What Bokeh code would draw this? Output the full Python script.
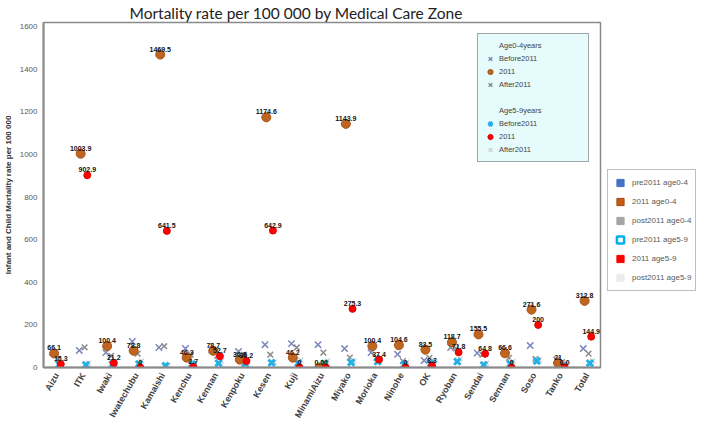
from bokeh.plotting import figure
from bokeh.layouts import row
from bokeh.models import ColumnDataSource, FactorRange, Legend, LegendItem, FixedTicker
from bokeh.transform import dodge
from bokeh.core.properties import value
from bokeh.embed import file_html
from bokeh.resources import INLINE

zones = ["Aizu", "ITK", "Iwaki", "Iwatechubu", "Kamaishi", "Kenchu", "Kennan", "Kenpoku",
         "Kesen", "Kuji", "MinamiAizu", "Miyako", "Morioka", "Ninohe", "OK", "Ryoban",
         "Sendai", "Sennan", "Soso", "Tanko", "Total"]

pre_0_4 = [72, 80, 70, 122, 94, 89, 82, 75, 107, 112, 107, 89, 70, 62, 33, 94, 68, 80, 103, 35, 89]
y2011_0_4 = [66.1, 1003.9, 100.4, 78.8, 1469.5, 46.3, 78.7, 36.8, 1174.6, 46.2, 0.0, 1143.9,
             100.4, 104.6, 83.5, 118.7, 155.5, 66.6, 271.6, 21.0, 312.8]
post_0_4 = [40, 95, 55, 65, 100, 60, 55, 60, 60, 94, 70, 47, 45, 30, 45, 90, 60, 45, 40, 25, 65]
pre_5_9 = [14, 12, 15, 17, 8, 16, 20, 18, 22, 20, 19, 24, 28, 14, 18, 28, 12, 17, 30, 10, 20]
y2011_5_9 = [15.3, 902.9, 21.2, 0.0, 641.5, 2.7, 52.7, 30.2, 642.9, 0.0, 0.0, 275.3, 37.4, 0.0,
             8.3, 71.8, 64.8, 0.0, 200.0, 0.0, 144.9]
post_5_9 = [25, 20, 20, 30, 10, 18, 30, 28, 25, 35, 30, 30, 40, 25, 35, 40, 20, 28, 35, 15, 30]

lab_0_4 = ["66.1", "1003.9", "100.4", "78.8", "1469.5", "46.3", "78.7", "36.8", "1174.6", "46.2",
           "0.0", "1143.9", "100.4", "104.6", "83.5", "118.7", "155.5", "66.6", "271.6", "21", "312.8"]
lab_5_9 = ["15.3", "902.9", "21.2", "0", "641.5", "2.7", "52.7", "30.2", "642.9", "0", "0",
           "275.3", "37.4", "0", "8.3", "71.8", "64.8", "0", "200", "0.0", "144.9"]

y_ticks = [0, 200, 400, 600, 800, 1000, 1200, 1400, 1600]

title_text = "Mortality rate per 100 000 by Medical Care Zone"
y_label = "Infant and Child Mortality rate per 100 000"

src = ColumnDataSource(dict(zone=zones, pre04=pre_0_4, y04=y2011_0_4, post04=post_0_4,
                            pre59=pre_5_9, y59=y2011_5_9, post59=post_5_9,
                            lab04=lab_0_4, lab59=lab_5_9))

H = 432
p = figure(width=602, height=H, x_range=FactorRange(factors=zones, range_padding=0),
           y_range=(0, 1620), output_backend="svg", toolbar_location=None,
           title=title_text,
           min_border_left=42, min_border_right=2, min_border_top=0, min_border_bottom=65)

p.title.text_font = "Lato"
p.title.text_font_size = "15.5px"
p.title.text_font_style = "normal"
p.title.text_color = "#222222"
p.title.align = "left"
p.title.offset = 86
p.title.standoff = 2

p.xgrid.visible = False
p.ygrid.visible = False
p.outline_line_color = "#8a8a8a"
p.outline_line_width = 1.5

p.yaxis.ticker = FixedTicker(ticks=y_ticks)
p.yaxis.axis_label = y_label
p.yaxis.axis_label_text_font = "Liberation Sans"
p.yaxis.axis_label_text_font_size = "8px"
p.yaxis.axis_label_text_font_style = "bold"
p.yaxis.axis_label_text_color = "#333333"
p.yaxis.axis_label_standoff = 4
p.yaxis.major_label_text_font = "Liberation Sans"
p.yaxis.major_label_text_font_size = "8px"
p.yaxis.major_label_text_color = "#595959"
p.yaxis.major_label_standoff = 6
p.yaxis.major_tick_line_color = None
p.yaxis.major_tick_out = 0
p.yaxis.major_tick_in = 0
p.yaxis.minor_tick_line_color = None
p.yaxis.minor_tick_out = 0
p.yaxis.axis_line_color = "#8a8a8a"
p.yaxis.axis_line_width = 2

p.xaxis.major_label_orientation = 1.05
p.xaxis.major_label_text_font = "Liberation Sans"
p.xaxis.major_label_text_font_size = "9px"
p.xaxis.major_label_text_font_style = "bold"
p.xaxis.major_label_text_color = "#404040"
p.xaxis.major_label_standoff = 6
p.xaxis.major_tick_line_color = None
p.xaxis.major_tick_out = 0
p.xaxis.axis_line_color = "#8a8a8a"
p.xaxis.axis_line_width = 2

r_pre04 = p.scatter(x=dodge("zone", -0.15, range=p.x_range), y="pre04", source=src, marker="x",
                    size=9, line_color="#7c88bd", line_width=1.5)
r_post04 = p.scatter(x=dodge("zone", 0.05, range=p.x_range), y="post04", source=src, marker="x",
                     size=8, line_color="#8c8c8c", line_width=1.5)
r_post59 = p.scatter(x=dodge("zone", 0.2, range=p.x_range), y="post59", source=src, marker="x",
                     size=7, line_color="#d2d2d2", line_width=1.5)
r_pre59 = p.scatter(x=dodge("zone", 0.1, range=p.x_range), y="pre59", source=src, marker="x",
                    size=9, line_color="#22b0e6", line_width=3)
r_y04 = p.scatter(x=dodge("zone", -0.1, range=p.x_range), y="y04", source=src, marker="circle",
                  size=9, fill_color="#c0651f", line_color="#a65518")
r_y59 = p.scatter(x=dodge("zone", 0.15, range=p.x_range), y="y59", source=src, marker="circle",
                  size=7, fill_color="#ff0000", line_color="#e00000")

p.text(x=dodge("zone", -0.1, range=p.x_range), y="y04", text="lab04", source=src,
       text_font=value("Liberation Sans"), text_font_size="7px", text_font_style="bold",
       text_align="center", text_baseline="bottom", y_offset=-3, text_color="#111111")
p.text(x=dodge("zone", 0.15, range=p.x_range), y="y59", text="lab59", source=src,
       text_font=value("Liberation Sans"), text_font_size="7px", text_font_style="bold",
       text_align="center", text_baseline="bottom", y_offset=-3, text_color="#111111")

# hidden renderer used only for the legend headers
r_head = p.scatter(x="zone", y="y04", source=src, marker="circle", size=0, alpha=0)

inset = Legend(items=[
    LegendItem(label="Age0-4years", renderers=[r_head]),
    LegendItem(label="Before2011", renderers=[r_pre04]),
    LegendItem(label="2011", renderers=[r_y04]),
    LegendItem(label="After2011", renderers=[r_post04]),
    LegendItem(label=" ", renderers=[r_head]),
    LegendItem(label="Age5-9years", renderers=[r_head]),
    LegendItem(label="Before2011", renderers=[r_pre59]),
    LegendItem(label="2011", renderers=[r_y59]),
    LegendItem(label="After2011", renderers=[r_post59]),
], location=(434, 205), orientation="vertical")
inset.background_fill_color = "#e6fbfb"
inset.background_fill_alpha = 1
inset.border_line_color = "#555555"
inset.border_line_width = 1.5
inset.padding = 5
inset.spacing = 0
inset.margin = 0
inset.glyph_width = 14
inset.glyph_height = 13
inset.label_height = 13
inset.label_width = 84
inset.label_standoff = 2
inset.label_text_font = "Liberation Sans"
inset.label_text_font_size = "7.5px"
inset.label_text_color = "#444444"
p.add_layout(inset, "center")

# side figure holding the outer legend
p2 = figure(width=98, height=H, x_range=p.x_range, y_range=p.y_range, output_backend="svg",
            toolbar_location=None, x_axis_location=None, y_axis_location=None,
            min_border_left=0, min_border_right=0, min_border_top=0, min_border_bottom=0)
p2.xgrid.visible = False
p2.ygrid.visible = False
p2.outline_line_color = None

sq_colors = [("pre04", "#4472c4", "#4472c4", 1), ("y04", "#c55a11", "#9c4a14", 1),
             ("post04", "#a5a5a5", "#a5a5a5", 1), ("pre59", "white", "#00b0f0", 2.5),
             ("y59", "#ff0000", "#ff0000", 1), ("post59", "#ececec", "#ececec", 1)]
sq_r = []
for col, fc, lc, lw in sq_colors:
    sq_r.append(p2.scatter(x="zone", y=col, source=src, marker="square", size=0,
                           fill_color=fc, line_color=lc, line_width=lw))

right = Legend(items=[
    LegendItem(label="pre2011 age0-4", renderers=[sq_r[0]]),
    LegendItem(label="2011 age0-4", renderers=[sq_r[1]]),
    LegendItem(label="post2011 age0-4", renderers=[sq_r[2]]),
    LegendItem(label="pre2011 age5-9", renderers=[sq_r[3]]),
    LegendItem(label="2011 age5-9", renderers=[sq_r[4]]),
    LegendItem(label="post2011 age5-9", renderers=[sq_r[5]]),
], location=(5, 76), orientation="vertical")
right.background_fill_color = "white"
right.border_line_color = "#7f7f7f"
right.border_line_width = 1.5
right.padding = 3
right.spacing = 0
right.margin = 0
right.glyph_width = 18
right.glyph_height = 19
right.label_height = 19
right.label_width = 60
right.label_standoff = 3
right.label_text_font = "Liberation Sans"
right.label_text_font_size = "8px"
right.label_text_color = "#595959"
p2.add_layout(right, "center")

layout = row(p, p2, spacing=0)
open("out.html", "w").write(file_html(layout, INLINE))
